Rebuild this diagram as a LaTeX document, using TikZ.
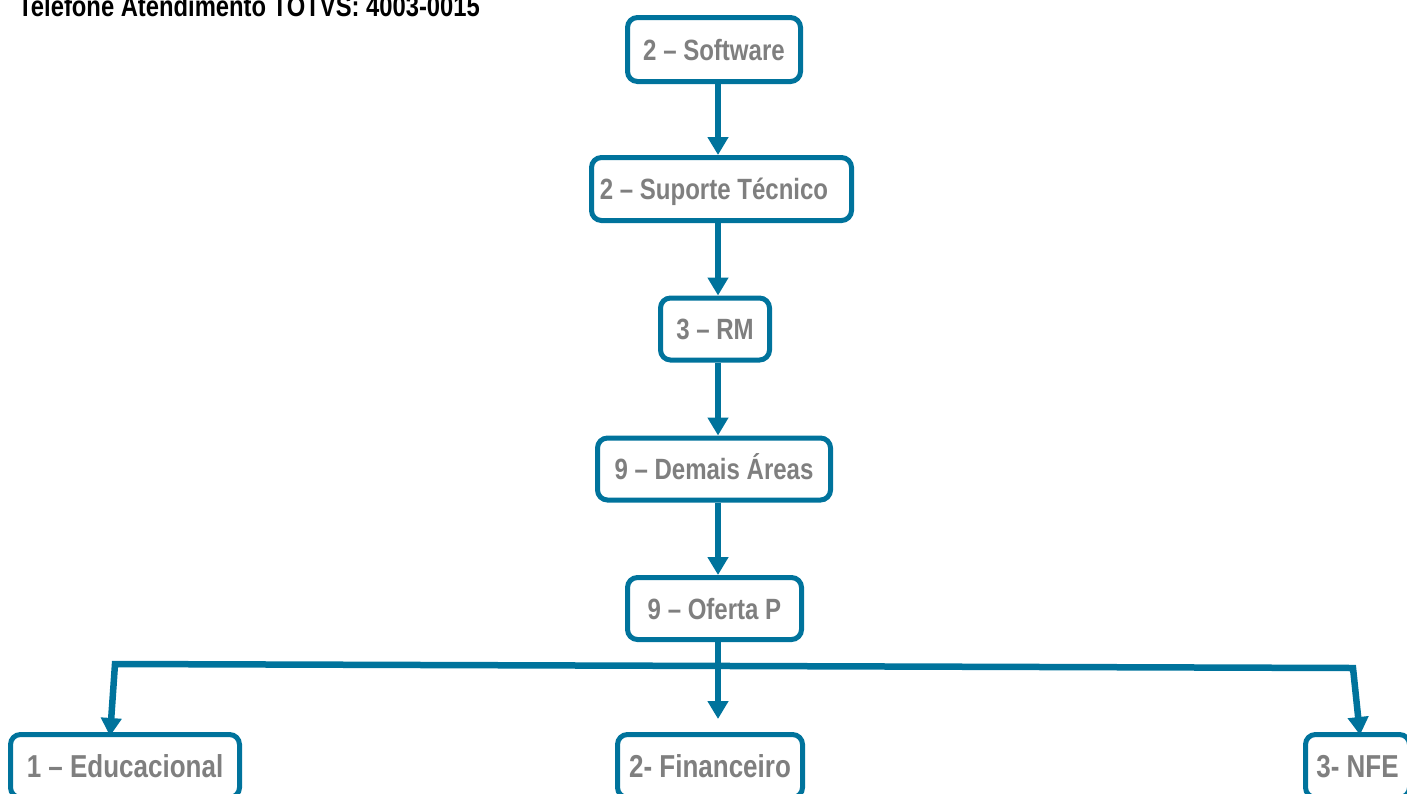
\documentclass[tikz,border=0pt]{standalone}
\usepackage{fontspec}
\setmainfont[FakeStretch=0.82]{Liberation Sans}
\usetikzlibrary{arrows.meta}
\definecolor{tblue}{HTML}{00739C}
\definecolor{tgrey}{HTML}{7F7F7F}
\begin{document}
\begin{tikzpicture}[x=1pt,y=-1pt,
  menubox/.style={draw=tblue, line width=5pt, rounded corners=10pt, fill=white,
    text=tgrey, inner sep=0pt, text height=21pt, text depth=0pt,
    font=\fontsize{29.3}{30}\selectfont\bfseries},
  bigbox/.style={menubox, text height=22.5pt, font=\fontsize{31.7}{32}\selectfont\bfseries},
  conn/.style={draw=tblue, line width=6.5pt, line join=miter},
  arr/.style={conn, -{Triangle[width=20pt,length=18pt]}},
  arr2/.style={conn, {Triangle[width=20pt,length=18pt]}-{Triangle[width=20pt,length=18pt]}}
]
\useasboundingbox (0,0) rectangle (1407,793);
\clip (0,0) rectangle (1407,793);

\node[anchor=base west, font=\fontsize{29}{30}\selectfont\bfseries, text=black, inner sep=0pt]
  (title) at (18,16) {Telefone Atendimento TOTVS: 4003-0015};

\node[menubox, minimum width=173pt, minimum height=64pt] (b1) at (714,49.5) {2 – Software};
\node[menubox, minimum width=260pt, minimum height=63pt] (b2) at (721.5,189) {2 – Suporte Técnico\hspace*{15pt}};
\node[menubox, minimum width=109pt, minimum height=62pt] (b3) at (715,329) {3 – RM};
\node[menubox, minimum width=233pt, minimum height=62pt] (b4) at (714,469) {9 – Demais Áreas};
\node[menubox, minimum width=174pt, minimum height=62pt] (b5) at (714.5,608.5) {9 – Oferta P};

\node[bigbox, minimum width=229pt, minimum height=63pt] (edu) at (125,766) {1 – Educacional};
\node[bigbox, minimum width=185pt, minimum height=63pt] (fin) at (710,766) {2- Financeiro};
\node[bigbox, minimum width=104pt, minimum height=63pt] (nfe) at (1357.5,766) {3- NFE};

\coordinate (ax) at (718,0);
\coordinate (ft) at (718,719);
\coordinate (hl) at (115,664);
\coordinate (hr) at (1353,668);

\draw[arr] (ax |- b1.south) -- (ax |- b2.north);
\draw[arr] (ax |- b2.south) -- (ax |- b3.north);
\draw[arr] (ax |- b3.south) -- (ax |- b4.north);
\draw[arr] (ax |- b4.south) -- (ax |- b5.north);
\draw[arr] (ax |- b5.south) -- (ft);
\draw[arr2] ([xshift=-15pt,yshift=-4pt]edu.north) -- (hl) -- (hr) -- ([xshift=2.5pt,yshift=-3pt]nfe.north);
\end{tikzpicture}
\end{document}
